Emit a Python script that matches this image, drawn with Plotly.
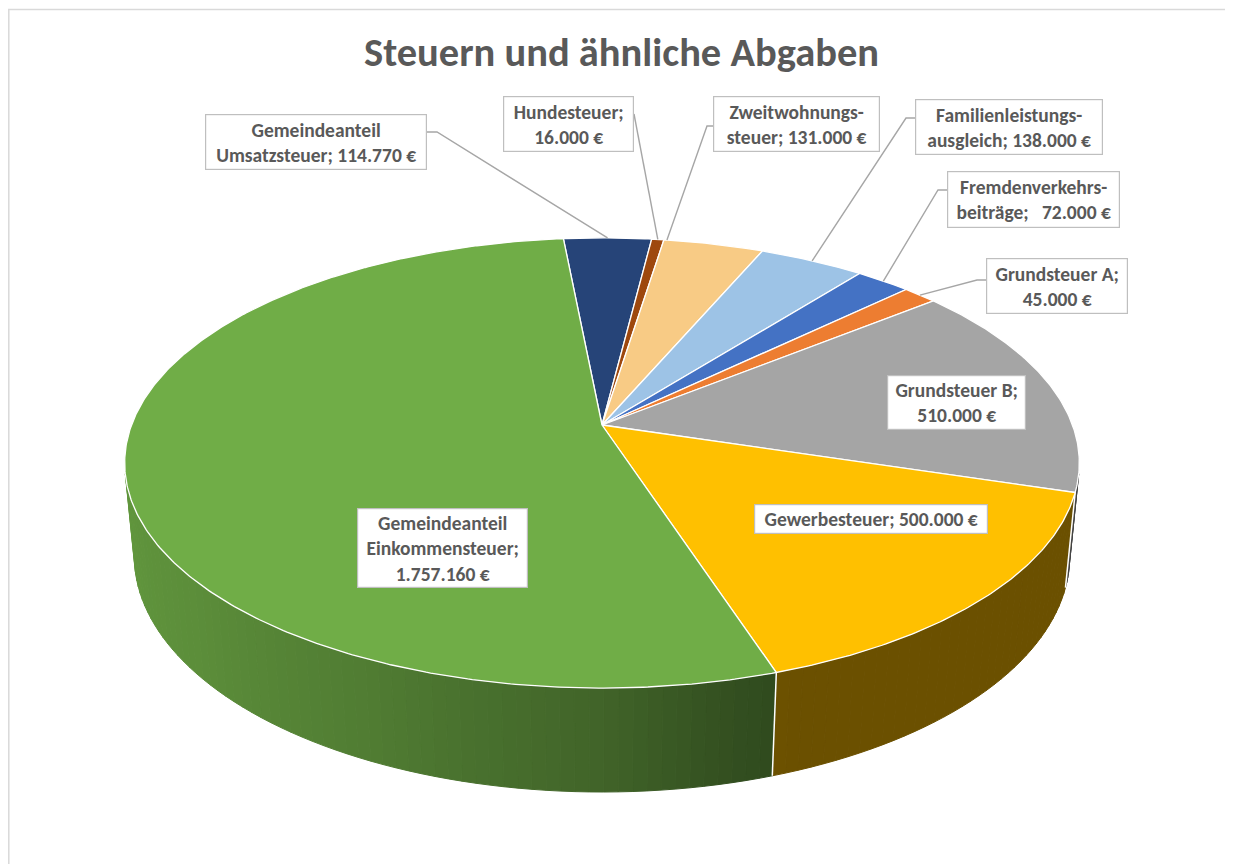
import numpy as np
import plotly.graph_objects as go

# ---------------- data ----------------
categories = [
    "Gemeindeanteil Umsatzsteuer",
    "Hundesteuer",
    "Zweitwohnungssteuer",
    "Familienleistungsausgleich",
    "Fremdenverkehrsbeiträge",
    "Grundsteuer A",
    "Grundsteuer B",
    "Gewerbesteuer",
    "Gemeindeanteil Einkommensteuer",
]
values = [114770, 16000, 131000, 138000, 72000, 45000, 510000, 500000, 1757160]
colors = ["#264478", "#9E480E", "#F8CB85", "#9DC3E6", "#4472C4",
          "#ED7D31", "#A5A5A5", "#FFC000", "#70AD47"]
label_names = [
    "Gemeindeanteil<br>Umsatzsteuer",
    "Hundesteuer",
    "Zweitwohnungs-<br>steuer",
    "Familienleistungs-<br>ausgleich",
    "Fremdenverkehrs-<br>beiträge",
    "Grundsteuer A",
    "Grundsteuer B",
    "Gewerbesteuer",
    "Gemeindeanteil<br>Einkommensteuer",
]
label_seps = ["; ", ";<br>", "; ", "; ", ";\u00a0\u00a0 ", ";<br>", ";<br>", "; ", ";<br>"]
title = "Steuern und ähnliche Abgaben"

# ---------------- layout / geometry ----------------
W, H = 1233, 864
OFF = 8                    # page body margin compensation
start_deg = -5.5           # first slice angle (clockwise from back)
elev = np.radians(27.7)    # 3D x-rotation
dist = 5.25                # camera distance (radius units)
scale = 2470.0
cx, cy = 602.0, 425.0
thick = 0.225
FONT = "Carlito, Calibri, Lato, sans-serif"
TXT = "#595959"
LEAD = "#A6A6A6"

s_e, c_e = np.sin(elev), np.cos(elev)


def proj(theta_deg, r=1.0, z=0.0):
    t = np.radians(np.asarray(theta_deg, dtype=float))
    X = r * np.sin(t)
    Y = r * np.cos(t)
    vy = Y + dist * c_e
    vz = z - dist * s_e
    depth = vy * c_e - vz * s_e
    up = vy * s_e + vz * c_e
    return cx + scale * X / depth, cy - scale * up / depth


def shade(hexcol, f):
    h = hexcol.lstrip("#")
    r, g, b = (int(h[i:i + 2], 16) for i in (0, 2, 4))
    return "rgb(%d,%d,%d)" % (r * f, g * f, b * f)


total = float(sum(values))
cum = np.concatenate([[0], np.cumsum(values)]) / total
bounds = start_deg + 360.0 * cum

fig = go.Figure()

# ---- side walls (visible front part) ----
vis = np.degrees(np.arccos(-1.0 / (dist * c_e)))
vis_lo, vis_hi = vis, 360 - vis
sh_a = [100, 160, 168, 180, 205, 230, 262]
sh_f = [0.42, 0.42, 0.47, 0.58, 0.72, 0.82, 0.88]
for i, col in enumerate(colors):
    a0, a1 = max(bounds[i], vis_lo), min(bounds[i + 1], vis_hi)
    if a1 <= a0:
        continue
    n = max(1, int(np.ceil((a1 - a0) / 1.5)))
    edges = np.linspace(a0, a1, n + 1)
    for j in range(n):
        ts = np.linspace(edges[j], edges[j + 1], 4)
        xt, yt = proj(ts, z=0)
        xb, yb = proj(ts[::-1], z=-thick)
        fc = shade(col, np.interp((edges[j] + edges[j + 1]) / 2, sh_a, sh_f))
        fig.add_trace(go.Scatter(
            x=np.concatenate([xt, xb, xt[:1]]), y=np.concatenate([yt, yb, yt[:1]]),
            mode="lines", fill="toself", fillcolor=fc,
            line=dict(color=fc, width=1), hoverinfo="skip", showlegend=False))

# slice separators on the side wall
for b in bounds:
    bb = (b + 360) % 360
    if vis_lo < bb < vis_hi:
        x0, y0 = proj(bb, z=0)
        x1, y1 = proj(bb, z=-thick)
        fig.add_trace(go.Scatter(x=[x0, x1], y=[y0, y1], mode="lines",
                                 line=dict(color="white", width=1.5),
                                 hoverinfo="skip", showlegend=False))

# ---- top face wedges ----
for i, col in enumerate(colors):
    n = max(2, int(np.ceil((bounds[i + 1] - bounds[i]) / 0.5)))
    ts = np.linspace(bounds[i], bounds[i + 1], n + 1)
    xa, ya = proj(ts)
    fig.add_trace(go.Scatter(
        x=np.concatenate([[cx], xa, [cx]]), y=np.concatenate([[cy], ya, [cy]]),
        mode="lines", fill="toself", fillcolor=col,
        line=dict(color="white", width=1.3), name=categories[i],
        hovertext=f"{categories[i]}: {values[i]:,} €".replace(",", "."),
        hoverinfo="text", showlegend=False))

# ---------------- labels ----------------
def fmt(v):
    return f"{v:,}".replace(",", ".") + " €"

# box center x, center y, width, height
boxes = [
    (316, 142, 222, 56),
    (568, 124, 131, 56),
    (796, 124, 167, 56),
    (1009, 127, 188, 56),
    (1033, 199, 173, 57),
    (1057, 286, 142, 56),
    (956, 402, 139, 55),
    (871, 519, 234, 30),
    (442, 548, 171, 80),
]
# leader: start point on box, elbow point, position inside slice (fraction)
leaders = {
    0: ((427, 132), (437, 132), 0.5),
    1: ((634, 114), None, 0.5),
    2: ((713, 126), (707, 126), 0.03),
    3: ((915, 118), (906, 118), 0.5),
    4: ((947, 190), (938, 190), 0.5),
    5: ((986, 280), (977, 280), 0.5),
}
for i, (p0, elbow, fr) in leaders.items():
    ang = bounds[i] + fr * (bounds[i + 1] - bounds[i])
    ex, ey = proj(ang)
    xs = [p0[0]] + ([elbow[0]] if elbow else []) + [float(ex)]
    ys = [p0[1]] + ([elbow[1]] if elbow else []) + [float(ey)]
    fig.add_trace(go.Scatter(x=xs, y=ys, mode="lines",
                             line=dict(color=LEAD, width=1.4),
                             hoverinfo="skip", showlegend=False))

annotations = []
for i in range(len(values)):
    bx, by, bw, bh = boxes[i]
    annotations.append(dict(
        x=bx, y=by, xref="x", yref="y", showarrow=False,
        text=label_names[i] + label_seps[i] + fmt(values[i]),
        font=dict(family=FONT, size=19.5, color=TXT, weight="bold"),
        align="center", valign="middle",
        width=bw - 8, height=bh - 8, borderpad=3,
        bgcolor="white", bordercolor="#BFBFBF", borderwidth=1.2))

annotations.append(dict(
    x=621, y=52, xref="x", yref="y", showarrow=False, text=title,
    font=dict(family=FONT, size=40.5, color=TXT, weight="bold")))

fig.update_layout(
    width=W, height=H, margin=dict(l=0, r=0, t=0, b=0),
    paper_bgcolor="white", plot_bgcolor="white",
    xaxis=dict(range=[OFF, W + OFF], visible=False, fixedrange=True),
    yaxis=dict(range=[H + OFF, OFF], visible=False, fixedrange=True),
    annotations=annotations,
    shapes=[dict(type="rect", xref="x", yref="y", x0=8.8, y0=9.5, x1=1229, y1=880,
                 line=dict(color="#D9D9D9", width=1.5), layer="below")],
    showlegend=False,
)

fig.write_html("out.html")
